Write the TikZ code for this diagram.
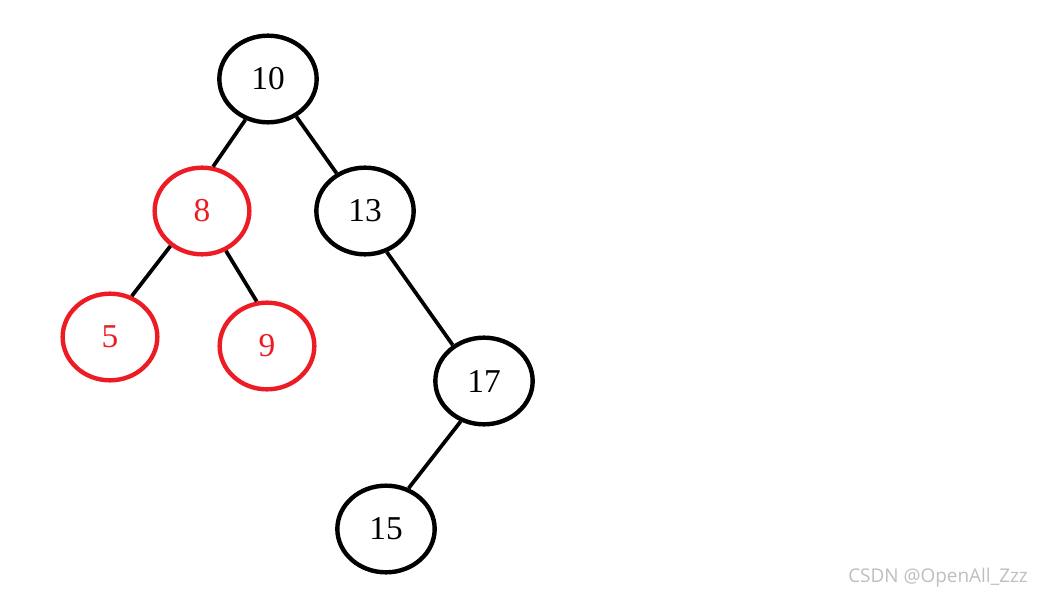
\documentclass[tikz,border=0pt]{standalone}
\usepackage{fontspec}
\setmainfont{Liberation Serif}
\newfontfamily\wmfont{Open Sans}
\usetikzlibrary{shapes.geometric}
\definecolor{pred}{RGB}{237,28,36}
\definecolor{wmgray}{RGB}{190,190,190}
\tikzset{
  bnode/.style={ellipse, draw=black, line width=3.3pt, minimum width=73pt, minimum height=65pt, inner sep=0pt, font=\fontsize{25}{25}\selectfont},
  rnode/.style={bnode, draw=pred, text=pred, minimum width=71pt},
  edge/.style={line width=2.8pt, black}
}
\begin{document}
\begin{tikzpicture}[x=0.75pt, y=-0.75pt]
\useasboundingbox (0,0) rectangle (1044,598);
\node[bnode] (n10) at (268,79) {10};
\node[rnode] (n8) at (202,211) {8};
\node[bnode] (n13) at (365,211) {13};
\node[rnode] (n5) at (110,337) {5};
\node[rnode] (n9) at (267,346) {9};
\node[bnode] (n17) at (484,381) {17};
\node[bnode] (n15) at (386,529) {15};
\draw[edge] (n10.241) -- (n8.76);
\draw[edge] (n10.307) -- (n13.127);
\draw[edge] (n8.228) -- (n5.62);
\draw[edge] (n8.301) -- (n9.103);
\draw[edge] (n13.298) -- (n17.131);
\draw[edge] (n17.240) -- (n15.61);
\node[text=wmgray, font=\wmfont\fontsize{14.2}{15}\selectfont, anchor=center] (wm) at (938,578) {CSDN @OpenAll\_Zzz};
\end{tikzpicture}
\end{document}
